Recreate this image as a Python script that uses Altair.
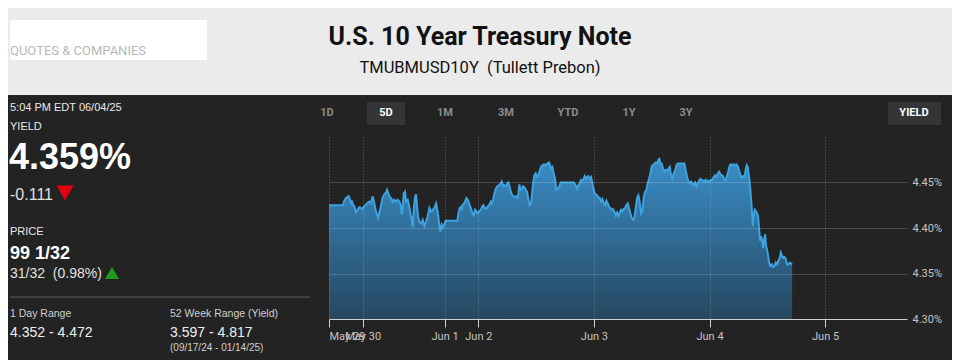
import altair as alt
import pandas as pd

# ---------------- data (trading hours since May 29 17:00 ET, yield %) ----------------
hours = [
    0.0, 2.84, 3.19, 3.54, 4.09, 4.37, 4.58, 4.78, 5.06, 5.27, 5.61, 5.96, 6.31, 6.65, 7.0, 7.34,
    7.69, 8.04, 8.38, 8.73, 9.07, 9.42, 9.77, 10.18, 10.46, 10.80, 11.15, 11.50, 11.84, 12.05,
    12.33, 12.60, 12.88, 13.23, 13.57, 13.92, 14.26, 14.61, 14.89, 15.10, 15.30, 15.51, 15.79,
    15.99, 16.34, 16.62, 16.90, 17.17, 17.38, 17.59, 17.86, 18.07, 18.28, 18.49, 18.76, 19.11,
    19.46, 19.80, 20.15, 20.49, 20.84, 21.19, 21.53, 21.88, 22.23, 22.57, 22.92, 23.12, 23.40,
    23.68, 23.95, 24.20,
    26.65, 26.86, 27.14, 27.34, 27.55, 27.69, 28.04, 28.24, 28.52, 28.80, 29.07, 29.28, 29.56,
    29.77, 30.04, 30.32, 30.60, 30.87, 31.15, 31.50, 31.84, 32.05, 32.33, 32.60, 32.88, 33.23,
    33.57, 33.78, 34.06, 34.33, 34.61, 34.96, 35.30, 35.65, 35.86, 36.13, 36.34, 36.69, 37.03,
    37.24, 37.52, 37.80, 38.07, 38.42, 38.76, 39.11, 39.32, 39.53, 39.73, 40.01, 40.29, 40.56,
    40.84, 41.12, 41.39, 41.67, 41.95, 42.09, 42.36, 42.64, 42.92, 43.19, 43.47, 43.75, 44.03,
    44.30, 44.65, 44.99, 45.34, 45.69, 45.89, 46.10, 46.38, 46.65, 46.93, 47.21, 47.49, 47.76,
    48.11,
    50.81, 51.22, 51.50, 51.78, 52.05, 52.33, 52.61, 52.88, 53.09, 53.37, 53.57, 53.85, 54.13,
    54.41, 54.61, 54.82, 55.10, 55.37, 55.65, 55.93, 56.21, 56.48, 56.76, 57.04, 57.31, 57.59,
    57.87, 58.14, 58.42, 58.70, 58.97, 59.25, 59.53, 59.80, 60.08, 60.36, 60.63, 60.91, 61.19,
    61.46, 61.74, 62.02, 62.30, 62.57, 62.85, 63.13, 63.40, 63.68, 63.96, 64.23, 64.51, 64.79,
    65.06, 65.34, 65.62, 65.90, 66.17, 66.45, 66.73, 67.00, 67.28, 67.56, 67.83, 68.11, 68.39,
    68.59, 68.80, 69.08, 69.36, 69.63, 69.91, 70.19, 70.46, 70.74, 71.02, 71.29, 71.57, 71.85,
    72.12, 72.40,
    73.79, 74.07, 74.35, 74.62, 74.90, 75.18, 75.45, 75.73, 76.01, 76.29, 76.56, 76.84, 77.12,
    77.39, 77.67, 77.95, 78.22, 78.50, 78.78, 79.05, 79.33, 79.61, 79.88, 80.16, 80.44, 80.72,
    80.99, 81.27, 81.55, 81.82, 82.10, 82.38, 82.65, 82.93, 83.21, 83.48, 83.76, 84.04, 84.31,
    84.59, 84.87, 85.14, 85.42, 85.70, 85.98, 86.25, 86.53, 86.74, 86.94, 87.22, 87.43, 87.64,
    87.84, 87.98, 88.19, 88.40, 88.67, 88.88, 89.09, 89.30, 89.50, 89.71, 89.92, 90.13, 90.34,
    90.54, 90.75, 90.96, 91.17, 91.37, 91.65, 91.93, 92.20, 92.48, 92.76, 93.04, 93.31, 93.59,
    93.80, 94.00, 94.28, 94.56, 94.83, 95.11, 95.39, 95.67, 95.94, 96.15,
]
yields = [
    4.425, 4.425, 4.430, 4.433, 4.435, 4.431, 4.427, 4.429, 4.425, 4.424, 4.417, 4.420, 4.423, 4.422, 4.421, 4.424,
    4.426, 4.428, 4.429, 4.427, 4.435, 4.427, 4.418, 4.411, 4.417, 4.425, 4.434, 4.437, 4.439, 4.442,
    4.438, 4.434, 4.433, 4.429, 4.431, 4.429, 4.431, 4.429, 4.425, 4.415, 4.422, 4.438, 4.440,
    4.429, 4.431, 4.425, 4.416, 4.409, 4.401, 4.420, 4.434, 4.437, 4.424, 4.413, 4.407, 4.405,
    4.409, 4.402, 4.407, 4.413, 4.422, 4.418, 4.420, 4.422, 4.427, 4.418, 4.402, 4.396, 4.404,
    4.401, 4.404, 4.408,
    4.408, 4.416, 4.422, 4.423, 4.421, 4.425, 4.427, 4.429, 4.433, 4.431, 4.427, 4.424, 4.420,
    4.416, 4.414, 4.420, 4.418, 4.416, 4.418, 4.420, 4.424, 4.425, 4.422, 4.421, 4.423, 4.425,
    4.429, 4.427, 4.431, 4.438, 4.443, 4.446, 4.447, 4.449, 4.451, 4.446, 4.447, 4.446, 4.449,
    4.450, 4.445, 4.439, 4.436, 4.434, 4.435, 4.433, 4.438, 4.448, 4.442, 4.443, 4.446, 4.445,
    4.442, 4.440, 4.431, 4.425, 4.427, 4.434, 4.449, 4.458, 4.460, 4.456, 4.458, 4.463, 4.467,
    4.469, 4.470, 4.469, 4.471, 4.472, 4.469, 4.465, 4.467, 4.460, 4.454, 4.442, 4.443, 4.445,
    4.450,
    4.450, 4.447, 4.443, 4.447, 4.449, 4.453, 4.452, 4.454, 4.457, 4.454, 4.456, 4.457, 4.454,
    4.456, 4.451, 4.445, 4.439, 4.437, 4.436, 4.434, 4.433, 4.429, 4.432, 4.427, 4.425, 4.430,
    4.427, 4.423, 4.422, 4.420, 4.421, 4.418, 4.414, 4.417, 4.413, 4.417, 4.420, 4.418, 4.421,
    4.422, 4.425, 4.427, 4.422, 4.416, 4.411, 4.409, 4.411, 4.422, 4.433, 4.436, 4.429, 4.416,
    4.418, 4.434, 4.440, 4.442, 4.449, 4.454, 4.460, 4.468, 4.469, 4.471, 4.472, 4.471, 4.475,
    4.476, 4.471, 4.471, 4.465, 4.462, 4.464, 4.463, 4.465, 4.467, 4.458, 4.454, 4.460, 4.463,
    4.469, 4.471,
    4.471, 4.463, 4.456, 4.451, 4.449, 4.451, 4.449, 4.447, 4.450, 4.446, 4.449, 4.452, 4.454,
    4.453, 4.452, 4.451, 4.453, 4.451, 4.452, 4.451, 4.453, 4.453, 4.456, 4.458, 4.456, 4.460,
    4.462, 4.459, 4.458, 4.457, 4.453, 4.452, 4.458, 4.463, 4.469, 4.470, 4.469, 4.470, 4.469,
    4.470, 4.468, 4.463, 4.458, 4.455, 4.457, 4.456, 4.465, 4.469, 4.467, 4.456, 4.445, 4.431,
    4.416, 4.402, 4.414, 4.420, 4.418, 4.416, 4.413, 4.398, 4.386, 4.391, 4.387, 4.378, 4.387,
    4.393, 4.380, 4.376, 4.369, 4.362, 4.358, 4.360, 4.357, 4.358, 4.362, 4.360, 4.364, 4.367,
    4.373, 4.370, 4.367, 4.368, 4.366, 4.360, 4.360, 4.362, 4.361, 4.360,
]

tick_hours = [0, 7, 24, 31, 55, 79, 103]
tick_labels = ["May 29", "May 30", "Jun 1", "Jun 2", "Jun 3", "Jun 4", "Jun 5"]
y_ticks = [4.30, 4.35, 4.40, 4.45]
tabs = ["1D", "5D", "1M", "3M", "YTD", "1Y", "3Y"]

NB = "\u00a0"
title = "U.S. 10 Year Treasury Note"
subtitle = "TMUBMUSD10Y" + NB + " (Tullett Prebon)"
timestamp = "5:04 PM EDT 06/04/25"
yield_value = "4.359%"
yield_change = "-0.111"
price_value = "99 1/32"
price_change = "31/32" + NB + " (0.98%)"
day_range = "4.352 - 4.472"
week52_range = "3.597 - 4.817"
week52_dates = "(09/17/24 - 01/14/25)"

# ---------------- layout ----------------
OX, OY = 329, 137          # page position of plot origin
W, H = 578, 182
TOTAL_W, TOTAL_H = 944, 352
SANS = "Liberation Sans, Arial, sans-serif"
ROBOTO = "Roboto, Liberation Sans, sans-serif"

one = alt.Data(values=[{"k": 0}])


def px(x):
    return x - OX


def py(y):
    return y - OY


def text(s, x, y, size, color, weight="normal", font=SANS, align="left"):
    return alt.Chart(one).mark_text(
        text=s, align=align, baseline="middle", fontSize=size, fontWeight=weight,
        font=font, color=color
    ).encode(x=alt.value(px(x)), y=alt.value(py(y)))


def rect(x1, y1, x2, y2, color):
    return alt.Chart(one).mark_rect(color=color).encode(
        x=alt.value(px(x1)), x2=alt.value(px(x2)), y=alt.value(py(y1)), y2=alt.value(py(y2))
    )


layers = []
# header
layers.append(rect(8, 8, 952, 95, "#ebebeb"))
layers.append(rect(10, 20, 207, 60, "#ffffff"))
layers.append(text("QUOTES & COMPANIES", 10, 51, 13, "#b8b8b8", font=ROBOTO))
layers.append(text(title, 480, 37, 25, "#111111", weight="bold", font=ROBOTO, align="center"))
layers.append(text(subtitle, 480, 68, 16.5, "#111111", font=ROBOTO, align="center"))

# tabs
tab_x = [327, 386, 445, 506, 568, 629, 686]
layers.append(rect(367, 102, 405, 125, "#353535"))
layers.append(rect(888, 102, 941, 125, "#353535"))
for t, xx in zip(tabs, tab_x):
    layers.append(text(t, xx, 113, 11, "#ffffff" if t == "5D" else "#8c8c8c",
                       weight="bold", font=ROBOTO, align="center"))
layers.append(text("YIELD", 914, 113, 11, "#ffffff", weight="bold", font=ROBOTO, align="center"))

# left panel
layers.append(text(timestamp, 10, 108, 11, "#e8e8e8"))
layers.append(text("YIELD", 10, 127, 11, "#e8e8e8"))
layers.append(text(yield_value, 9, 158, 36, "#ffffff", weight="bold"))
layers.append(text(yield_change, 10, 195, 16, "#e0e0e0"))
layers.append(alt.Chart(one).mark_point(shape="triangle-down", filled=True, size=300,
                                        color="#e3000f", opacity=1).encode(
    x=alt.value(px(65)), y=alt.value(py(193))))
layers.append(text("PRICE", 10, 232, 11, "#e8e8e8"))
layers.append(text(price_value, 10, 254, 18, "#ffffff", weight="bold"))
layers.append(text(price_change, 10, 274, 14, "#e0e0e0"))
layers.append(alt.Chart(one).mark_point(shape="triangle-up", filled=True, size=200,
                                        color="#1e9a1e", opacity=1).encode(
    x=alt.value(px(112)), y=alt.value(py(273))))
layers.append(alt.Chart(one).mark_rule(color="#5c5c5c", strokeWidth=1).encode(
    x=alt.value(px(10)), x2=alt.value(px(310)), y=alt.value(py(297))))
layers.append(text("1 Day Range", 10, 314, 10.5, "#d0d0d0"))
layers.append(text(day_range, 10, 333, 14, "#eeeeee"))
layers.append(text("52 Week Range (Yield)", 170, 314, 10.5, "#d0d0d0"))
layers.append(text(week52_range, 170, 333, 14, "#eeeeee"))
layers.append(text(week52_dates, 170, 348, 10, "#d0d0d0"))

# ---------------- series ----------------
df = pd.DataFrame({"h": hours, "y": yields})

label_expr = ""
for hv, lab in zip(tick_hours, tick_labels):
    label_expr += f"datum.value == {hv} ? '{lab}' : "
label_expr += "''"

xenc = alt.X(
    "h:Q",
    scale=alt.Scale(domain=[0, 120], nice=False, zero=False),
    axis=alt.Axis(
        values=tick_hours, labelExpr=label_expr, title=None, grid=True,
        gridDash=[1, 2], gridColor="rgba(255,255,255,0.28)", gridWidth=1,
        domainColor="#d0d0d0", tickColor="#d0d0d0", tickSize=8,
        labelColor="#c4c4c4", labelFont=ROBOTO, labelFontSize=11, labelPadding=3,
        labelFlush=True, labelOverlap=False, zindex=1,
    ),
)
yenc = alt.Y(
    "y:Q",
    scale=alt.Scale(domain=[4.30, 4.50], nice=False, zero=False),
    axis=alt.Axis(
        orient="right", values=y_ticks, labelExpr="format(datum.value, '.2f') + '%'",
        title=None, domain=False, ticks=False, grid=True,
        gridColor="rgba(255,255,255,0.17)", gridWidth=1,
        labelColor="#c4c4c4", labelFont=ROBOTO, labelFontSize=11, labelPadding=5, zindex=1,
    ),
)

grad = alt.Gradient(
    gradient="linear",
    stops=[alt.GradientStop(color="#3a8dc7", offset=0), alt.GradientStop(color="#264760", offset=1)],
    x1=1, x2=1, y1=0, y2=1,
)
base = alt.Chart(df)
area = base.mark_area(color=grad, interpolate="linear").encode(x=xenc, y=yenc, y2=alt.datum(4.30))
line = base.mark_line(color="#3ba3e0", strokeWidth=2, interpolate="linear").encode(x=xenc, y=yenc)

layers = layers + [area, line]

chart = alt.layer(*layers).properties(
    width=W, height=H,
    padding={"left": OX - 8, "top": OY - 8, "right": TOTAL_W - (OX - 8) - W,
             "bottom": TOTAL_H - (OY - 8) - H},
    autosize=alt.AutoSizeParams(type="none"),
    background="#232323",
).configure_view(stroke=None)

chart.save("out.html", embed_options={"renderer": "svg", "actions": False})
